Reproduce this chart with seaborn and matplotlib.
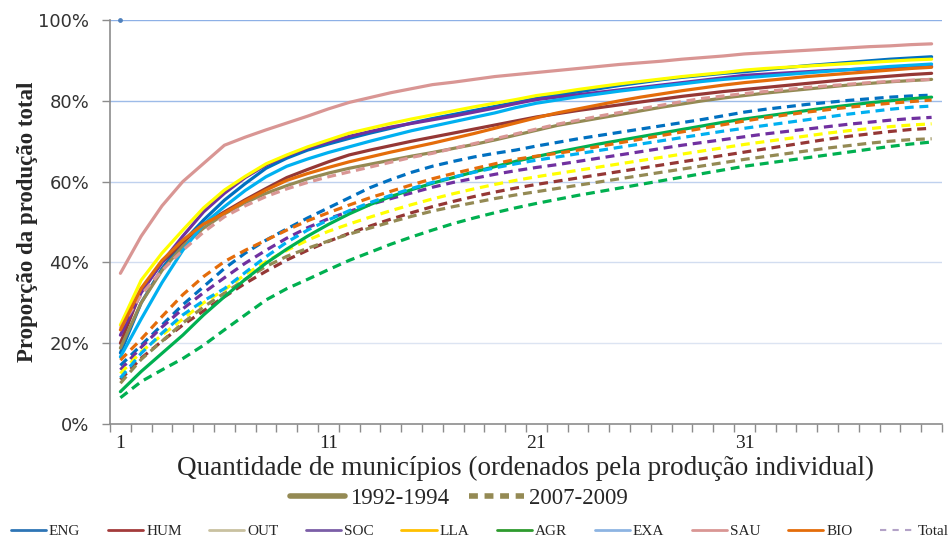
import matplotlib.pyplot as plt
from matplotlib.lines import Line2D
from matplotlib.ticker import PercentFormatter
import pandas as pd
import seaborn as sns

# dados (% da producao total acumulada)
municipios = list(range(1, 41))
areas = ['ENG', 'HUM', 'OUT', 'SOC', 'LLA', 'AGR', 'EXA', 'SAU', 'BIO']
periodos = ['1992-1994', '2007-2009']

eng_92 = [17.6, 30, 38.5, 45, 50.5, 55.4, 59.5, 63.3, 65.8, 67.8, 69.3, 70.7, 72, 73.2, 74.5, 75.6, 76.6, 77.6, 78.6, 79.6,
          80.6, 81.4, 82.2, 83, 83.8, 84.5, 85.2, 85.8, 86.3, 86.8, 87.2, 87.7, 88.2, 88.7, 89.1, 89.5, 89.9, 90.3, 90.6, 90.9]
hum_92 = [20, 33, 40, 45, 49.5, 52.5, 55.5, 58.3, 61, 63, 64.9, 66.6, 67.8, 68.9, 70, 71, 72, 73, 74, 75,
          76, 76.8, 77.6, 78.3, 79, 79.7, 80.4, 81.1, 81.7, 82.3, 82.8, 83.3, 83.8, 84.3, 84.8, 85.3, 85.7, 86.1, 86.5, 86.8]
out_92 = [18.8, 30, 38, 44, 48.5, 52, 54.8, 57.1, 59, 60.7, 62.1, 63.3, 64.3, 65.3, 66.3, 67.2, 68.2, 69.2, 70.3, 71.5,
          72.7, 73.9, 74.8, 75.7, 76.6, 77.5, 78.4, 79.2, 80, 80.7, 81.3, 81.9, 82.4, 82.9, 83.4, 83.9, 84.3, 84.7, 85, 85.3]
soc_92 = [22, 32.5, 40, 46.5, 52.5, 57.1, 61, 64.1, 66.4, 68.3, 69.8, 71.2, 72.4, 73.5, 74.4, 75.3, 76.2, 77.2, 78.2, 79.3,
          80.3, 80.9, 81.5, 82.1, 82.7, 83.3, 83.9, 84.5, 85.1, 85.7, 86.3, 86.6, 86.9, 87.2, 87.5, 87.7, 87.9, 88.1, 88.3, 88.5]
lla_92 = [24.5, 35.6, 42.3, 48, 53.5, 57.9, 61.3, 64.4, 66.6, 68.6, 70.3, 72, 73.2, 74.4, 75.5, 76.5, 77.5, 78.5, 79.4, 80.3,
          81.3, 82, 82.8, 83.5, 84.2, 84.8, 85.4, 86, 86.5, 87, 87.6, 88, 88.3, 88.6, 88.9, 89.2, 89.5, 89.8, 90.1, 90.3]
agr_92 = [8, 13, 17.5, 22, 27, 31.5, 35.8, 39.8, 43.3, 46.5, 49.4, 52, 54.3, 56.3, 58, 59.6, 61, 62.4, 63.7, 65,
          66.2, 67.3, 68.3, 69.3, 70.2, 71.1, 72, 72.9, 73.8, 74.7, 75.5, 76.2, 76.9, 77.6, 78.3, 78.9, 79.5, 80, 80.5, 80.9]
exa_92 = [16.6, 26, 35, 43, 49.5, 53.8, 57.8, 61.2, 63.8, 65.6, 67.2, 68.6, 70, 71.3, 72.6, 73.7, 74.8, 75.9, 77, 78.3,
          79.4, 80.2, 81, 81.7, 82.4, 83, 83.6, 84.2, 84.8, 85.3, 85.7, 86.1, 86.5, 86.9, 87.3, 87.7, 88.1, 88.5, 88.8, 89.1]
sau_92 = [37.3, 46.5, 54, 60, 64.5, 69, 71, 72.8, 74.5, 76.2, 78, 79.6, 80.8, 82, 83, 84, 84.6, 85.3, 86, 86.5,
          87, 87.5, 88, 88.5, 89, 89.4, 89.8, 90.3, 90.7, 91.1, 91.6, 91.9, 92.2, 92.5, 92.8, 93.1, 93.4, 93.6, 93.9, 94.1]
bio_92 = [23.3, 33.6, 40.5, 45.5, 49.5, 52.2, 55.2, 57.9, 60.3, 62, 63.5, 64.9, 66.1, 67.3, 68.4, 69.5, 70.7, 71.9, 73.2, 74.5,
          75.8, 77, 78, 79, 80, 80.9, 81.7, 82.5, 83.2, 83.9, 84.5, 85, 85.5, 86, 86.4, 86.8, 87.2, 87.6, 88, 88.3]

eng_07 = [14.5, 19.5, 24.5, 29.5, 34, 38.5, 42.3, 45.5, 48.3, 51, 53.5, 56, 58.5, 60.5, 62.3, 63.8, 65, 66.1, 67, 67.8,
          68.8, 69.7, 70.6, 71.4, 72.2, 73, 73.8, 74.6, 75.4, 76.3, 77.2, 77.9, 78.5, 79.1, 79.6, 80.1, 80.5, 80.9, 81.2, 81.4]
hum_07 = [11, 16.3, 20.5, 24.5, 28, 31.5, 34.8, 37.8, 40.6, 43, 45.2, 47.2, 49, 50.7, 52.3, 53.8, 55.1, 56.3, 57.4, 58.4,
          59.3, 60.1, 60.9, 61.7, 62.5, 63.3, 64.1, 64.9, 65.7, 66.5, 67.3, 68.1, 68.9, 69.7, 70.5, 71.2, 71.8, 72.4, 72.9, 73.2]
out_07 = [10.1, 16, 20.5, 25, 29, 32.4, 35.8, 39, 41.5, 43.5, 45.3, 47, 48.5, 50, 51.4, 52.7, 53.8, 54.8, 55.8, 56.7,
          57.5, 58.3, 59.1, 59.9, 60.7, 61.5, 62.3, 63.1, 63.9, 64.7, 65.5, 66.2, 66.9, 67.6, 68.3, 68.9, 69.5, 70, 70.4, 70.6]
soc_07 = [13.4, 19, 24, 28.5, 32.5, 36.2, 39.8, 43, 46, 48.6, 50.8, 52.6, 54.3, 55.8, 57.2, 58.6, 59.8, 60.8, 61.8, 62.7,
          63.5, 64.2, 65, 65.8, 66.6, 67.4, 68.2, 69, 69.7, 70.4, 71.1, 71.8, 72.4, 73, 73.6, 74.2, 74.7, 75.2, 75.6, 75.9]
lla_07 = [12.5, 17.9, 22, 26, 30, 33.2, 37, 40.2, 43, 45.5, 47.7, 49.5, 51.2, 52.8, 54.3, 55.7, 57, 58.2, 59.3, 60.3,
          61.2, 62, 62.8, 63.6, 64.4, 65.2, 66, 66.8, 67.6, 68.4, 69.2, 69.9, 70.6, 71.3, 72, 72.6, 73.1, 73.6, 74, 74.3]
agr_07 = [6.5, 10.5, 13.4, 16.2, 19.5, 23.3, 27, 30.7, 33.5, 35.8, 38.2, 40.5, 42.5, 44.5, 46.3, 48, 49.6, 51, 52.3, 53.5,
          54.6, 55.6, 56.6, 57.5, 58.4, 59.3, 60.2, 61.1, 62, 62.9, 63.8, 64.5, 65.2, 65.9, 66.6, 67.3, 68, 68.7, 69.3, 69.8]
exa_07 = [11.4, 17.5, 22.5, 27, 30.5, 33.5, 37.5, 41.4, 45, 48, 50.5, 52.8, 54.8, 56.6, 58.3, 59.8, 61.1, 62.3, 63.4, 64.4,
          65.3, 66.1, 66.9, 67.7, 68.5, 69.3, 70.1, 70.9, 71.7, 72.5, 73.2, 73.9, 74.6, 75.3, 76, 76.7, 77.3, 77.9, 78.4, 78.7]
sau_07 = [23.7, 32, 38, 43, 47.5, 51.3, 54, 56.3, 58.2, 59.8, 61.2, 62.4, 63.6, 64.8, 66, 67, 68.2, 69.4, 70.6, 71.8,
          73, 74.2, 75.2, 76.2, 77.1, 78, 78.9, 79.8, 80.6, 81.2, 81.8, 82.3, 82.8, 83.3, 83.7, 84.1, 84.5, 84.8, 85.1, 85.3]
bio_07 = [15.8, 21, 26.6, 32, 36.5, 40.2, 43, 45.5, 48, 50.3, 52.3, 54.2, 56, 57.6, 59.2, 60.7, 62, 63.2, 64.4, 65.5,
          66.3, 67, 67.8, 68.7, 69.6, 70.5, 71.4, 72.3, 73.2, 74.1, 75, 75.8, 76.5, 77.2, 77.8, 78.4, 78.9, 79.4, 79.8, 80.2]

# ponto isolado no topo (1o municipio, 100%)
ponto_x = [1]
ponto_y = [100]

series = {
    ('ENG', '1992-1994'): eng_92, ('HUM', '1992-1994'): hum_92, ('OUT', '1992-1994'): out_92,
    ('SOC', '1992-1994'): soc_92, ('LLA', '1992-1994'): lla_92, ('AGR', '1992-1994'): agr_92,
    ('EXA', '1992-1994'): exa_92, ('SAU', '1992-1994'): sau_92, ('BIO', '1992-1994'): bio_92,
    ('ENG', '2007-2009'): eng_07, ('HUM', '2007-2009'): hum_07, ('OUT', '2007-2009'): out_07,
    ('SOC', '2007-2009'): soc_07, ('LLA', '2007-2009'): lla_07, ('AGR', '2007-2009'): agr_07,
    ('EXA', '2007-2009'): exa_07, ('SAU', '2007-2009'): sau_07, ('BIO', '2007-2009'): bio_07,
}
rows = []
for (area, per), vals in series.items():
    for m, v in zip(municipios, vals):
        rows.append({'municipio': m, 'valor': v / 100, 'area': area, 'periodo': per})
df = pd.DataFrame(rows)

# cores das linhas no grafico
cores = {'ENG': '#0070C0', 'HUM': '#953735', 'OUT': '#948A54', 'SOC': '#7030A0', 'LLA': '#FFFF00',
         'AGR': '#00B050', 'EXA': '#00B0F0', 'SAU': '#D99694', 'BIO': '#E46C0A'}
# cores da legenda de baixo (como aparecem na figura)
cores_leg = ['#2E75B6', '#A33B3B', '#C9C1A0', '#7B5EA7', '#FFC000', '#2E9B2E', '#8DB4E2', '#D99694', '#E46C0A', '#B3A2C7']
nomes_leg = areas + ['Total']

sns.set_style('white')
plt.rcParams['font.family'] = ['Liberation Serif', 'DejaVu Serif']

fig = plt.figure(figsize=(9.53, 5.41), dpi=100)
ax = fig.add_axes([110 / 953, 1 - 424 / 541, 832 / 953, 404 / 541])

sns.lineplot(data=df, x='municipio', y='valor', hue='area', style='periodo', hue_order=areas,
             style_order=periodos[::-1], palette=cores,
             dashes={'1992-1994': '', '2007-2009': (2.8, 1.8)},
             linewidth=2.3, errorbar=None, legend=False, ax=ax)
ax.scatter(ponto_x, [y / 100 for y in ponto_y], s=6, color='#4F81BD', zorder=5, clip_on=False)

ax.set_xlim(0.5, 40.5)
ax.set_ylim(0, 1)
ax.set_yticks([0, 0.2, 0.4, 0.6, 0.8, 1.0])
ax.yaxis.set_major_formatter(PercentFormatter(1.0, decimals=0))
for lab in ax.get_yticklabels():
    lab.set_family('DejaVu Sans')
    lab.set_fontsize(13)
    lab.set_color('#333333')

ax.set_xticks([m + 0.5 for m in [0] + municipios])
ax.set_xticklabels([])
ax.set_xticks([1, 11, 21, 31], minor=True)
ax.set_xticklabels(['1', '11', '21', '31'], minor=True, fontsize=14, color='#222222')
ax.tick_params(axis='x', which='major', direction='out', length=6, width=1, color='#8C8C8C', bottom=True)
ax.tick_params(axis='x', which='minor', length=0, pad=8)
ax.tick_params(axis='y', direction='out', length=6, width=1, color='#8C8C8C', left=True, pad=9)

ax.grid(axis='y', linewidth=1)
ax.grid(axis='x', visible=False)
grid_cores = ['#FFFFFF', '#DCE4F2', '#D2DDF0', '#BFD1EE', '#9DBBE8', '#8DB0E6']
for gl, c in zip(ax.get_ygridlines(), grid_cores):
    gl.set_color(c)
for s in ['top', 'right']:
    ax.spines[s].set_visible(False)
for s in ['left', 'bottom']:
    ax.spines[s].set_color('#8C8C8C')
    ax.spines[s].set_linewidth(1.2)

ax.set_xlabel('Quantidade de municípios (ordenados pela produção individual)', fontsize=19.5, labelpad=3)
ax.set_ylabel('Proporção da produção total', fontsize=16.5, fontweight='bold', labelpad=0)

# legenda dos periodos
h1 = [Line2D([], [], color='#948A54', lw=4),
      Line2D([], [], color='#948A54', lw=4, ls=(0, (1.6, 1.2)))]
fig.legend(h1, periodos, ncol=2, loc='center', bbox_to_anchor=(459 / 953, 1 - 498 / 541),
           frameon=False, fontsize=16.5, handlelength=2.4, handletextpad=0.2, columnspacing=0.9)

# legenda das areas
h2 = [Line2D([], [], color=c, lw=2) for c in cores_leg[:-1]]
h2.append(Line2D([], [], color=cores_leg[-1], lw=1.5, ls=(0, (3, 3))))
fig.legend(h2, nomes_leg, ncol=10, loc='center', bbox_to_anchor=(480 / 953, 1 - 531 / 541),
           frameon=False, fontsize=11, handlelength=2.3, handletextpad=0.2, columnspacing=1.8)

fig.savefig('out.png', dpi=100)
